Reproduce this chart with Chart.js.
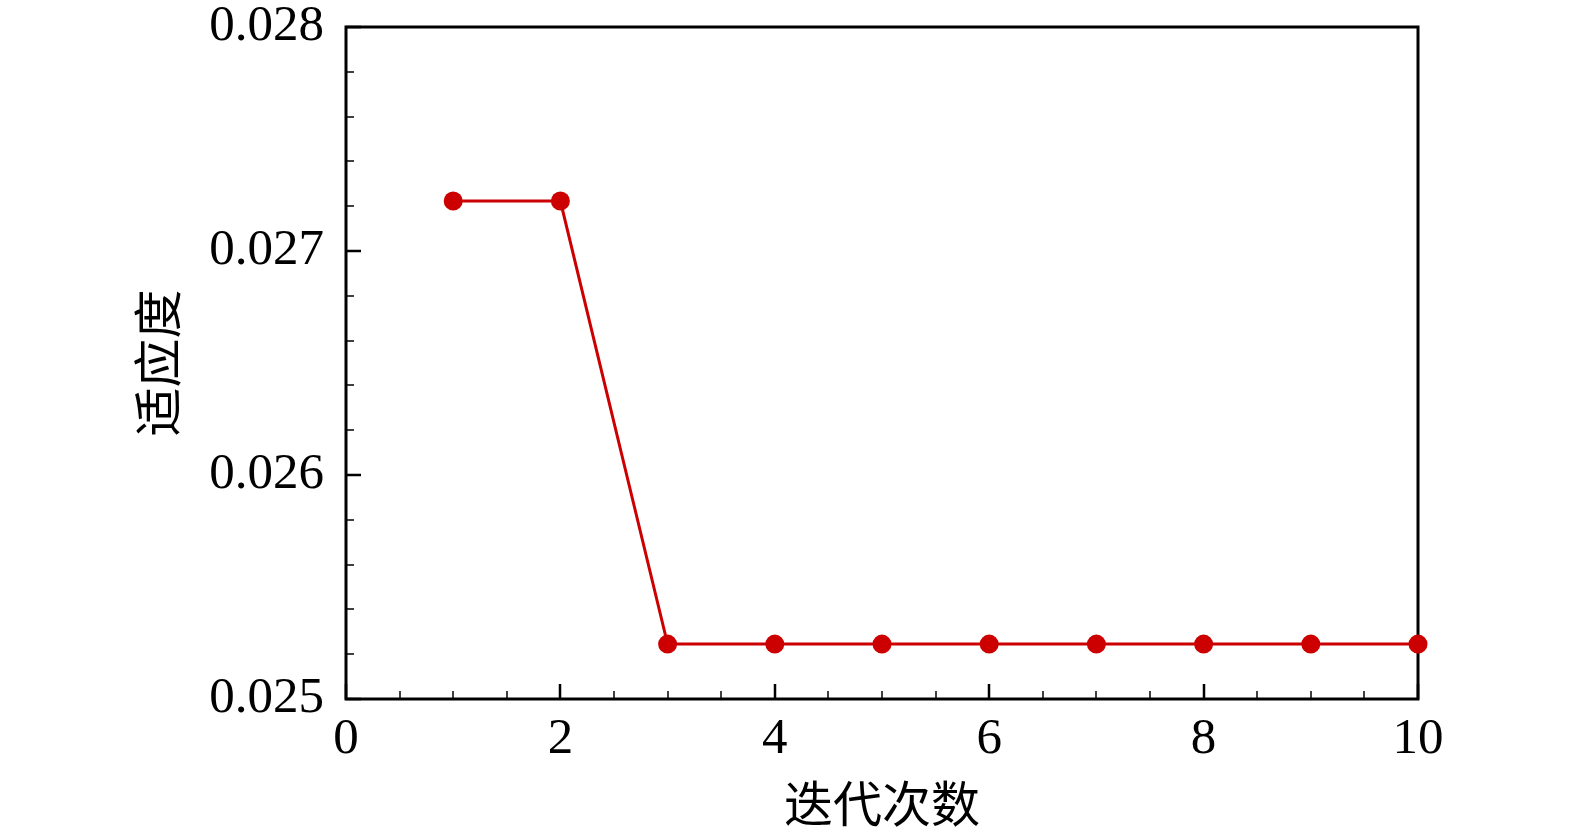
<!DOCTYPE html>
<html>
<head>
<meta charset="utf-8">
<script src="https://cdn.jsdelivr.net/npm/chart.js@4.4.1/dist/chart.umd.min.js"></script>
<style>
  html, body { margin: 0; padding: 0; background: #fff; }
  #wrap { width: 1575px; height: 836px; }
</style>
</head>
<body>
<div id="wrap"><canvas id="fitChart"></canvas></div>
<script>
// iteration number and fitness
const iterations = [1, 2, 3, 4, 5, 6, 7, 8, 9, 10];
const fitness = [0.027223, 0.027223, 0.025245, 0.025245, 0.025245, 0.025245, 0.025245, 0.025245, 0.025245, 0.025245];
const xTicks = [0, 2, 4, 6, 8, 10];
const yTicks = [0.025, 0.026, 0.027, 0.028];

const serif = '"Liberation Serif", "Times New Roman", serif';
const cjk = '"Noto Sans CJK SC", sans-serif';

// frame + inward ticks (major and minor), drawn from the chart scales
const frameTicks = {
    id: 'frameTicks',
    beforeDatasetsDraw(chart) {
        const ctx = chart.ctx;
        const a = chart.chartArea;
        const xs = chart.scales.x, ys = chart.scales.y;
        ctx.save();
        ctx.strokeStyle = '#000';
        ctx.lineCap = 'butt';

        // x ticks every 0.5, major every 2
        for (let v = 0; v <= 10.001; v += 0.5) {
            const px = Math.round(xs.getPixelForValue(v));
            const major = Math.abs(v / 2 - Math.round(v / 2)) < 1e-6;
            ctx.lineWidth = major ? 2.5 : 1.5;
            ctx.beginPath();
            ctx.moveTo(px, a.bottom);
            ctx.lineTo(px, a.bottom - (major ? 15 : 8));
            ctx.stroke();
        }
        // y ticks every 0.0002, major every 0.001
        for (let i = 0; i <= 15; i++) {
            const v = 0.025 + i * 0.0002;
            const py = Math.round(ys.getPixelForValue(v));
            const major = i % 5 === 0;
            ctx.lineWidth = major ? 2.5 : 1.5;
            ctx.beginPath();
            ctx.moveTo(a.left, py);
            ctx.lineTo(a.left + (major ? 15 : 8), py);
            ctx.stroke();
        }

        ctx.lineWidth = 3;
        ctx.strokeRect(a.left, a.top, a.right - a.left, a.bottom - a.top);
        ctx.restore();
    }
};

const ctx = document.getElementById('fitChart').getContext('2d');
new Chart(ctx, {
    type: 'line',
    data: {
        datasets: [{
            data: iterations.map((x, i) => ({ x: x, y: fitness[i] })),
            borderColor: '#cc0000',
            backgroundColor: '#cc0000',
            borderWidth: 3,
            pointRadius: 9.5,
            pointBorderWidth: 0,
            pointBackgroundColor: '#cc0000',
            tension: 0,
            clip: false
        }]
    },
    options: {
        responsive: true,
        maintainAspectRatio: false,
        animation: false,
        layout: { padding: { top: 27, right: 157, left: 0, bottom: 0 } },
        plugins: {
            legend: { display: false },
            tooltip: { enabled: false }
        },
        scales: {
            x: {
                type: 'linear',
                min: 0,
                max: 10,
                afterBuildTicks: s => { s.ticks = xTicks.map(v => ({ value: v })); },
                afterFit: s => { s.height = 137; s.paddingLeft = 0; s.paddingRight = 0; },
                grid: { display: false, drawTicks: false },
                border: { display: false },
                ticks: {
                    color: '#000',
                    padding: 15,
                    maxRotation: 0,
                    font: { family: serif, size: 51, lineHeight: 1 }
                },
                title: {
                    display: true,
                    text: '迭代次数',
                    color: '#000',
                    font: { family: cjk, size: 49, lineHeight: 1 },
                    padding: { top: 0, bottom: 8 }
                }
            },
            y: {
                type: 'linear',
                min: 0.025,
                max: 0.028,
                afterBuildTicks: s => { s.ticks = yTicks.map(v => ({ value: v })); },
                afterFit: s => { s.width = 346; s.paddingTop = 0; s.paddingBottom = 0; },
                grid: { display: false, drawTicks: false },
                border: { display: false },
                ticks: {
                    color: '#000',
                    padding: 22,
                    font: { family: serif, size: 51, lineHeight: 1 },
                    callback: v => v.toFixed(3)
                },
                title: {
                    display: true,
                    text: '适应度',
                    color: '#000',
                    font: { family: cjk, size: 49, lineHeight: 1 },
                    padding: { top: 133, bottom: 0 }
                }
            }
        }
    },
    plugins: [frameTicks]
});
</script>
</body>
</html>
